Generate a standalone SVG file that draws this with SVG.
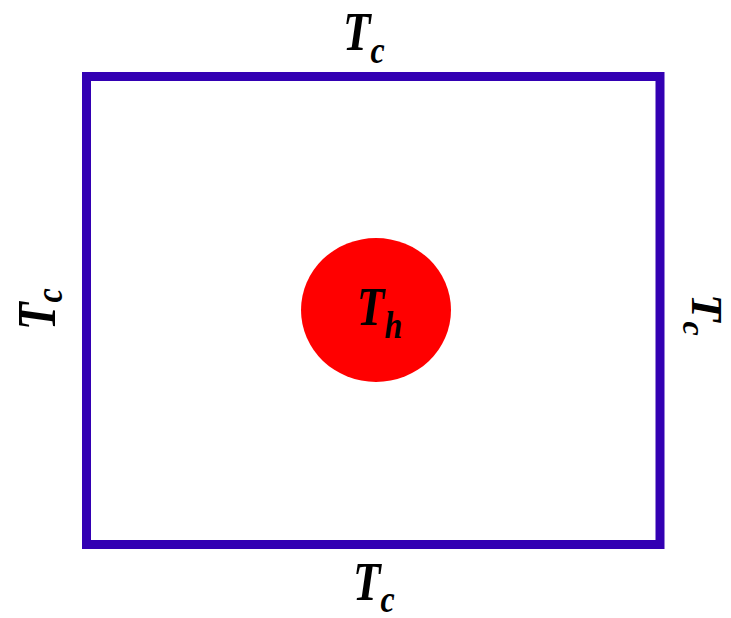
<svg xmlns="http://www.w3.org/2000/svg" width="731" height="618" viewBox="0 0 731 618">
<style>
.lbl{font-family:"Liberation Serif","Times New Roman",serif;font-weight:bold;font-style:italic;fill:#000}
.big{font-size:45px}
.sub{font-size:32px}
</style>
<rect width="731" height="618" fill="#fff"/>
<g id="enclosure">
<rect x="86.5" y="76.5" width="573.5" height="468" fill="none" stroke="#3300B3" stroke-width="9"/>
</g>
<g id="hot-cylinder">
<ellipse cx="376" cy="310" rx="75" ry="72" fill="#FF0000"/>
<text class="lbl big" transform="translate(357,325) scale(1,1.2)">T<tspan class="sub" dy="11">h</tspan></text>
</g>
<g id="label-top">
<text class="lbl big" transform="translate(343,50) scale(1,1.2)">T<tspan class="sub" dy="11">c</tspan></text>
</g>
<g id="label-bottom">
<text class="lbl big" transform="translate(353,600) scale(1,1.2)">T<tspan class="sub" dy="10">c</tspan></text>
</g>
<g id="label-left">
<text class="lbl big" transform="translate(55,330) rotate(-90) scale(1,1.2)">T<tspan class="sub" dy="6">c</tspan></text>
</g>
<g id="label-right">
<text class="lbl big" transform="translate(692,294) rotate(90)">T<tspan class="sub" dy="9">c</tspan></text>
</g>
<g id="connectors"></g>
</svg>
